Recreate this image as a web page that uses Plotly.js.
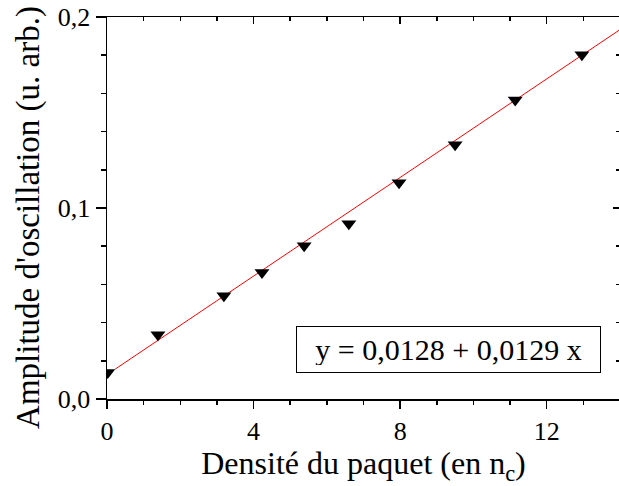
<!DOCTYPE html>
<html>
<head>
<meta charset="utf-8">
<script src="https://cdn.plot.ly/plotly-3.0.1.min.js"></script>
<style>
html,body{margin:0;padding:0;overflow:hidden;background:#fff;}
#chart{width:620px;height:486px;}
</style>
</head>
<body>
<div id="chart"></div>
<script>
// Measured data (density in n_c, oscillation amplitude in arb. units)
var density = [0.02, 1.39, 3.19, 4.23, 5.38, 6.60, 7.97, 9.50, 11.14, 12.96];
var amplitude = [0.0139, 0.0337, 0.0541, 0.0662, 0.0803, 0.0918, 0.1132, 0.1331, 0.1566, 0.1802];
// Linear fit line end points
var fitX = [0.22, 14.0];
var fitY = [0.0156, 0.1934];
var fitLabel = 'y = 0,0128 + 0,0129 x';
var xTitle = 'Densité du paquet (en n<sub>c</sub>)';
var yTitle = "Amplitude d'oscillation (u. arb.)";

var serif = 'Liberation Serif, Times New Roman, serif';

var traces = [
  {x: fitX, y: fitY, mode: 'lines', line: {color: '#ff0000', width: 1}, hoverinfo: 'skip', showlegend: false},
  {x: density, y: amplitude, mode: 'markers',
   marker: {symbol: 'triangle-down', size: 13, color: '#000'}, showlegend: false},
  {x: [null], y: [null], xaxis: 'x2', yaxis: 'y2', showlegend: false, hoverinfo: 'skip'}
];

var axisCommon = {
  showgrid: false, zeroline: false, linecolor: '#000', linewidth: 1.5,
  tickcolor: '#000', tickwidth: 1.5,
  tickfont: {family: serif, size: 26, color: '#000'}
};

var layout = {
  width: 620, height: 486,
  margin: {l: 107, r: 0, t: 17, b: 87, pad: 0},
  paper_bgcolor: '#fff', plot_bgcolor: '#fff',
  separators: ', ',
  font: {family: serif, color: '#000'},
  xaxis: Object.assign({}, axisCommon, {
    range: [0, 14], dtick: 4, tick0: 0, ticks: 'outside', ticklen: 8,
    showline: true, mirror: true,
    minor: {dtick: 1, ticks: 'outside', ticklen: 4, tickcolor: '#000', tickwidth: 1.5},
    title: {text: xTitle, font: {family: serif, size: 32, color: '#000'}, standoff: 2}
  }),
  yaxis: Object.assign({}, axisCommon, {
    range: [0, 0.2], dtick: 0.1, tick0: 0, ticks: 'outside', ticklen: 10,
    tickformat: '.1f',
    showline: true, mirror: true,
    minor: {dtick: 0.02, ticks: 'outside', ticklen: 5, tickcolor: '#000', tickwidth: 1.5}
  }),
  xaxis2: {
    overlaying: 'x', side: 'top', anchor: 'y2', range: [0, 14], dtick: 4, tick0: 0,
    ticks: 'inside', ticklen: 7, tickwidth: 1.5, tickcolor: '#000',
    showticklabels: false, showgrid: false, zeroline: false, showline: false,
    minor: {dtick: 1, ticks: 'inside', ticklen: 4, tickcolor: '#000', tickwidth: 1.5}
  },
  yaxis2: {
    overlaying: 'y', side: 'right', anchor: 'x2', range: [0, 0.2], dtick: 0.1, tick0: 0,
    ticks: 'inside', ticklen: 7, tickwidth: 1.5, tickcolor: '#000',
    showticklabels: false, showgrid: false, zeroline: false, showline: false,
    minor: {dtick: 0.02, ticks: 'inside', ticklen: 4, tickcolor: '#000', tickwidth: 1.5}
  },
  annotations: [{
    text: fitLabel, xref: 'paper', yref: 'paper', x: 0.665, y: 0.13,
    xanchor: 'center', yanchor: 'middle', showarrow: false,
    font: {family: serif, size: 30, color: '#000'},
    width: 289, height: 31, align: 'center',
    bordercolor: '#000', borderwidth: 1, borderpad: 7, bgcolor: '#fff'
  }, {
    text: yTitle, xref: 'paper', yref: 'paper', x: -0.152, y: 0.474,
    xanchor: 'center', yanchor: 'middle', showarrow: false, textangle: -90,
    font: {family: serif, size: 33, color: '#000'}
  }]
};

Plotly.newPlot('chart', traces, layout, {displayModeBar: false, staticPlot: true});
</script>
</body>
</html>
